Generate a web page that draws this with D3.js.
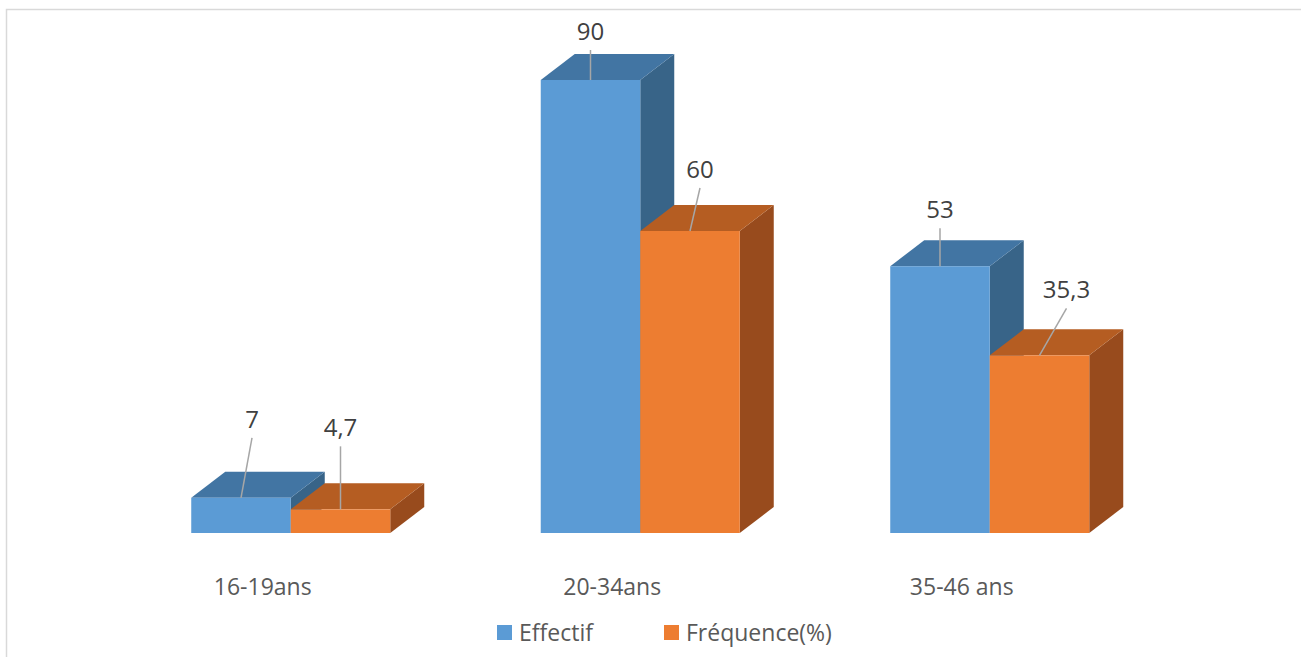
<!DOCTYPE html>
<html>
<head>
<meta charset="utf-8">
<script src="https://cdn.jsdelivr.net/npm/d3@7/dist/d3.min.js"></script>
<style>
  body { margin: 0; background: #fff; }
  svg { display: block; font-family: 'Open Sans', 'Liberation Sans', sans-serif; }
</style>
</head>
<body>
<div id="chart"></div>
<script>
// Data
let categories = ['16-19ans', '20-34ans', '35-46 ans'];
let seriesNames = ['Effectif', 'Fréquence(%)'];
let effectif = [7, 90, 53];
let frequence = [4.7, 60, 35.3];
let effectifLabels = ['7', '90', '53'];
let frequenceLabels = ['4,7', '60', '35,3'];

let seriesValues = [effectif, frequence];
let valueLabels = [effectifLabels, frequenceLabels];

// Colors: front, top, side
let frontColor = ['#5b9bd5', '#ed7d31'];
let topColor = ['#4275a3', '#b55d22'];
let sideColor = ['#386488', '#984b1d'];

let width = 1301, height = 657;
let depthX = 34, depthY = 26;

let svg = d3.select('#chart')
    .append('svg')
    .attr('width', width)
    .attr('height', height);

// Chart border
svg.append('rect')
    .attr('x', 6.5)
    .attr('y', 9.5)
    .attr('width', width)
    .attr('height', height)
    .attr('fill', 'none')
    .attr('stroke', '#d9d9d9')
    .attr('stroke-width', 1.5);

// Scales
let x = d3.scaleBand()
    .domain(categories)
    .range([116, 1164.5])
    .paddingInner(0.4306)
    .paddingOuter(0.2153);

let xs = d3.scaleBand()
    .domain(seriesNames)
    .range([0, x.bandwidth()]);

let y = d3.scaleLinear()
    .domain([0, 90])
    .range([533, 80]);

// Leader label offsets (dx at label, height above bar top)
let labelShift = [
    [[11, 78], [0, 48], [0, 56]],
    [[0, 81], [10, 61], [27, 65]]
];

let bars = svg.append('g');

seriesNames.forEach(function(name, si) {
    categories.forEach(function(cat, ci) {
        let v = seriesValues[si][ci];
        let x0 = x(cat) + xs(name);
        let x1 = x0 + xs.bandwidth();
        let yt = y(v);
        let yb = y(0);
        let g = bars.append('g');

        // Side face
        g.append('path')
            .attr('d', 'M' + x1 + ',' + yt + 'L' + (x1 + depthX) + ',' + (yt - depthY) +
                'L' + (x1 + depthX) + ',' + (yb - depthY) + 'L' + x1 + ',' + yb + 'Z')
            .attr('fill', sideColor[si]);

        // Top face
        g.append('path')
            .attr('d', 'M' + x0 + ',' + yt + 'L' + (x0 + depthX) + ',' + (yt - depthY) +
                'L' + (x1 + depthX) + ',' + (yt - depthY) + 'L' + x1 + ',' + yt + 'Z')
            .attr('fill', topColor[si]);

        // Front face
        g.append('rect')
            .attr('x', x0)
            .attr('y', yt)
            .attr('width', x1 - x0)
            .attr('height', yb - yt)
            .attr('fill', frontColor[si]);
    });
});

// Data labels with leader lines
let labels = svg.append('g');
seriesNames.forEach(function(name, si) {
    categories.forEach(function(cat, ci) {
        let v = seriesValues[si][ci];
        let cx = x(cat) + xs(name) + xs.bandwidth() / 2;
        let yt = y(v);
        let s = labelShift[si][ci];
        let lx = cx + s[0];
        let ly = yt - s[1];

        labels.append('line')
            .attr('x1', cx)
            .attr('y1', yt)
            .attr('x2', lx)
            .attr('y2', ly + 18)
            .attr('stroke', '#a6a6a6')
            .attr('stroke-width', 1.5);

        labels.append('text')
            .attr('x', lx)
            .attr('y', ly + 8)
            .attr('text-anchor', 'middle')
            .attr('font-size', '24px')
            .attr('fill', '#404040')
            .text(valueLabels[si][ci]);
    });
});

// Category labels
svg.append('g')
    .selectAll('text')
    .data(categories)
    .enter()
    .append('text')
    .attr('x', function(d) { return x(d) + x.bandwidth() / 2 - 28; })
    .attr('y', 595)
    .attr('text-anchor', 'middle')
    .attr('font-size', '23px')
    .attr('fill', '#595959')
    .text(function(d) { return d; });

// Legend
let legendX = [497, 664];
let legend = svg.append('g');
seriesNames.forEach(function(name, si) {
    legend.append('rect')
        .attr('x', legendX[si])
        .attr('y', 625)
        .attr('width', 15)
        .attr('height', 15)
        .attr('fill', frontColor[si]);
    legend.append('text')
        .attr('x', legendX[si] + 22)
        .attr('y', 641)
        .attr('font-size', '23px')
        .attr('fill', '#595959')
        .text(name);
});
</script>
</body>
</html>
